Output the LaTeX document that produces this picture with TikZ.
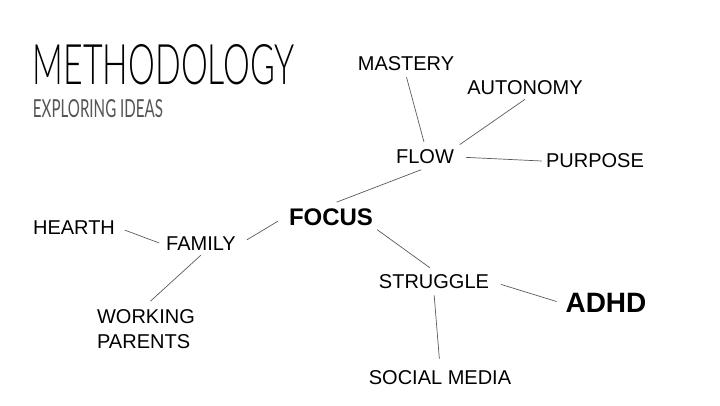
\documentclass[tikz,border=0pt]{standalone}
\usepackage{fontspec}
\setmainfont{Liberation Sans}
\newfontfamily\titlefont{Lato}[UprightFont=* Light]
\newfontfamily\subfont{Lato}
\usepackage{tikz}
\usetikzlibrary{calc}
\definecolor{linkgray}{HTML}{5A5A5A}
\definecolor{subgray}{HTML}{555555}
\tikzstyle{word}=[inner sep=4pt, font=\fontsize{20}{25}\selectfont]
\tikzstyle{keyword}=[inner sep=4pt, font=\fontsize{24}{28}\selectfont\bfseries]
\tikzstyle{bigword}=[inner sep=4pt, font=\fontsize{28}{32}\selectfont\bfseries]
\tikzstyle{link}=[draw=linkgray, line width=0.7pt]

\begin{document}
\begin{tikzpicture}[x=1pt, y=-1pt]
			\useasboundingbox (0,0) rectangle (720,405);
			% title
			\node[inner sep=0pt] (title) at (164,65) {\resizebox{262pt}{40pt}{\titlefont METHODOLOGY}};
			\node[inner sep=0pt, text=subgray] (subtitle) at (98,109) {\resizebox{130pt}{18pt}{\subfont EXPLORING IDEAS}};
			% words
			\node[word] (mastery) at (406,64) {MASTERY};
			\node[word] (autonomy) at (525,88) {AUTONOMY};
			\node[word] (flow) at (425,157) {FLOW};
			\node[word] (purpose) at (595,161) {PURPOSE};
			\node[word] (hearth) at (74,228) {HEARTH};
			\node[word] (family) at (201,244) {FAMILY};
			\node[keyword] (focus) at (331,217) {FOCUS};
			\node[word] (struggle) at (434,282) {STRUGGLE};
			\node[bigword] (adhd) at (606,303) {ADHD};
			\node[word, align=left] (working) at (146,329) {WORKING\\PARENTS};
			\node[word] (social) at (440,378) {SOCIAL MEDIA};
			% links
			\draw[link, shorten <=2pt, shorten >=4pt] (mastery.south) -- (flow.north);
			\draw[link, shorten >=2pt] (autonomy.south) -- (flow.north east);
			\draw[link, shorten <=8pt] (flow.east) -- (purpose.west);
			\draw[link, shorten <=4pt, shorten >=6pt] (flow.south) -- (focus.north);
			\draw[link, shorten <=6pt, shorten >=3pt] (hearth.east) -- (family.west);
			\draw[link, shorten <=8pt, shorten >=8pt] (family.east) -- (focus.west);
			\draw[link, shorten >=6pt] (family.south) -- (working.north);
			\draw[link, shorten >=5pt] (focus.south east) -- (struggle.north);
			\draw[link, shorten <=8pt, shorten >=5pt] (struggle.east) -- (adhd.west);
			\draw[link, shorten <=2pt, shorten >=8pt] (struggle.south) -- (social.north);
		\end{tikzpicture}
\end{document}
